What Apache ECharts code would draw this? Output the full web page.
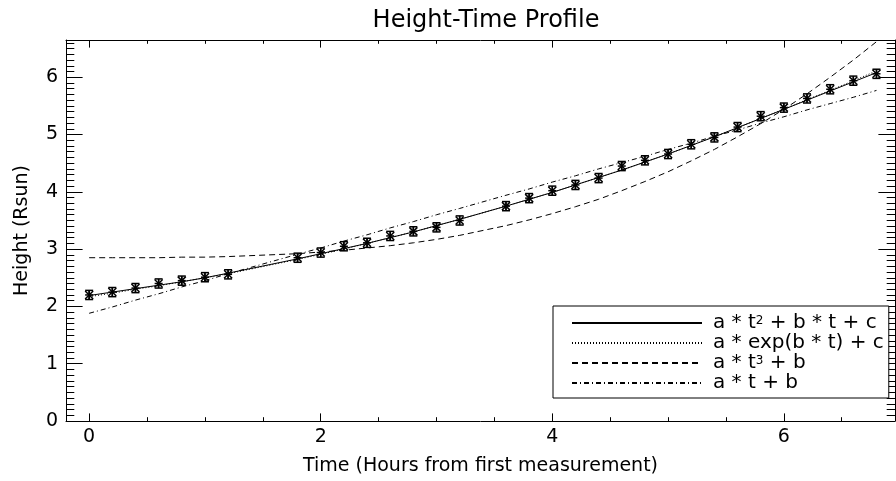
<!DOCTYPE html>
<html>
<head>
<meta charset="utf-8">
<script src="https://cdn.jsdelivr.net/npm/echarts@6/dist/echarts.min.js"></script>
<style>
html,body{margin:0;padding:0;background:#fff;}
#chart{width:896px;height:481px;}
</style>
</head>
<body>
<div id="chart"></div>
<script>
// ---- data ----
const hours = [0, 0.2, 0.4, 0.6, 0.8, 1.0, 1.2, 1.8, 2.0, 2.2, 2.4, 2.6, 2.8, 3.0, 3.2, 3.6, 3.8, 4.0, 4.2, 4.4, 4.6, 4.8, 5.0, 5.2, 5.4, 5.6, 5.8, 6.0, 6.2, 6.4, 6.6, 6.8];
const heightRsun = [2.20, 2.25, 2.32, 2.40, 2.45, 2.51, 2.56, 2.85, 2.94, 3.05, 3.11, 3.23, 3.31, 3.38, 3.50, 3.75, 3.89, 4.02, 4.12, 4.24, 4.45, 4.55, 4.66, 4.83, 4.95, 5.13, 5.32, 5.47, 5.63, 5.79, 5.94, 6.06];
const heightErr = [0.08, 0.08, 0.08, 0.08, 0.08, 0.08, 0.08, 0.08, 0.08, 0.08, 0.08, 0.08, 0.08, 0.08, 0.08, 0.08, 0.08, 0.08, 0.08, 0.08, 0.08, 0.08, 0.08, 0.08, 0.08, 0.08, 0.08, 0.08, 0.08, 0.08, 0.08, 0.08];
const fitQuad = [2.19, 2.25, 2.31, 2.37, 2.43, 2.50, 2.58, 2.83, 2.92, 3.01, 3.10, 3.20, 3.30, 3.41, 3.52, 3.75, 3.87, 3.99, 4.12, 4.25, 4.38, 4.52, 4.66, 4.81, 4.96, 5.12, 5.28, 5.44, 5.60, 5.76, 5.92, 6.08];
const fitExp = [2.17, 2.23, 2.30, 2.36, 2.43, 2.50, 2.57, 2.82, 2.91, 3.00, 3.10, 3.20, 3.30, 3.41, 3.52, 3.75, 3.87, 3.99, 4.12, 4.25, 4.38, 4.52, 4.66, 4.81, 4.96, 5.12, 5.28, 5.44, 5.61, 5.77, 5.94, 6.11];
const fitCubic = [2.85, 2.85, 2.85, 2.85, 2.86, 2.86, 2.87, 2.92, 2.95, 2.98, 3.02, 3.06, 3.11, 3.17, 3.24, 3.41, 3.51, 3.62, 3.74, 3.87, 4.02, 4.18, 4.35, 4.54, 4.74, 4.96, 5.19, 5.44, 5.71, 6.00, 6.30, 6.62];
const fitLinear = [1.88, 1.99, 2.11, 2.22, 2.34, 2.45, 2.57, 2.91, 3.02, 3.14, 3.25, 3.37, 3.48, 3.60, 3.71, 3.94, 4.05, 4.17, 4.28, 4.40, 4.51, 4.62, 4.74, 4.85, 4.97, 5.08, 5.20, 5.31, 5.43, 5.54, 5.65, 5.77];
const seriesNames = ['a * t² + b * t + c', 'a * exp(b * t) + c', 'a * t³ + b', 'a * t + b'];
const xTickLabels = [0, 2, 4, 6];
const yTickLabels = [0, 1, 2, 3, 4, 5, 6];
const xMinorTicks = [0.5, 1, 1.5, 2.5, 3, 3.5, 4.5, 5, 5.5, 6.5];
const yMinorTicks = [];
for (let i = 1; i <= 66; i++) { if (i % 10 !== 0) yMinorTicks.push(+(i / 10).toFixed(1)); }
const titleText = 'Height-Time Profile';
const xTitle = 'Time (Hours from first measurement)';
const yTitle = 'Height (Rsun)';

// ---- chart ----
const FONT = 'DejaVu Sans';
const X_MIN = -0.2, X_MAX = 6.96, Y_MIN = 0, Y_MAX = 6.65;
const gridRect = {left: 66, top: 40, width: 829, height: 381};
const lineCol = '#000';

function xAx(gridIndex, position, ticks, len, opts) {
  return Object.assign({
    type: 'value', gridIndex, position, min: X_MIN, max: X_MAX,
    axisLine: {show: true, onZero: false, lineStyle: {color: lineCol, width: 1}},
    axisTick: {show: true, inside: true, length: len, customValues: ticks, lineStyle: {color: lineCol, width: 1}},
    axisLabel: {show: false},
    splitLine: {show: false}
  }, opts || {});
}
function yAx(gridIndex, position, ticks, len, opts) {
  return Object.assign({
    type: 'value', gridIndex, position, min: Y_MIN, max: Y_MAX,
    axisLine: {show: true, onZero: false, lineStyle: {color: lineCol, width: 1}},
    axisTick: {show: true, inside: true, length: len, customValues: ticks, lineStyle: {color: lineCol, width: 1}},
    axisLabel: {show: false},
    splitLine: {show: false}
  }, opts || {});
}

const chart = echarts.init(document.getElementById('chart'), null, {renderer: 'canvas'});

const styles = [
  {type: 'solid'},
  {type: [1, 2]},
  {type: [6, 4]},
  {type: [5, 3, 1, 3]}
];
const fits = [fitQuad, fitExp, fitCubic, fitLinear];

const lineSeries = fits.map((arr, k) => ({
  name: seriesNames[k],
  type: 'line',
  xAxisIndex: 0, yAxisIndex: 0,
  data: hours.map((t, i) => [t, arr[i]]),
  symbol: 'none',
  showSymbol: false,
  smooth: false,
  lineStyle: Object.assign({color: '#000', width: 1}, styles[k]),
  itemStyle: {color: '#000'},
  z: 3,
  animation: false
}));

const pointSeries = {
  type: 'custom',
  name: 'data',
  xAxisIndex: 0, yAxisIndex: 0,
  data: hours.map((t, i) => [t, heightRsun[i], heightErr[i]]),
  encode: {x: 0, y: 1},
  z: 5,
  animation: false,
  renderItem: function (params, api) {
    const x = api.value(0), y = api.value(1), e = api.value(2);
    const p = api.coord([x, y]);
    const top = api.coord([x, y + e]);
    const bot = api.coord([x, y - e]);
    const cw = 4, r = 4;
    const st = {stroke: '#000', lineWidth: 1.5};
    const mk = (x1, y1, x2, y2) => ({type: 'line', shape: {x1, y1, x2, y2}, style: st});
    return {
      type: 'group',
      children: [
        mk(p[0], top[1], p[0], bot[1]),
        mk(p[0] - cw, top[1], p[0] + cw, top[1]),
        mk(p[0] - cw, bot[1], p[0] + cw, bot[1]),
        mk(p[0] - r, p[1], p[0] + r, p[1]),
        mk(p[0], p[1] - r, p[0], p[1] + r),
        mk(p[0] - r, p[1] - r, p[0] + r, p[1] + r),
        mk(p[0] - r, p[1] + r, p[0] + r, p[1] - r)
      ]
    };
  }
};

const option = {
  backgroundColor: '#fff',
  animation: false,
  textStyle: {fontFamily: FONT},
  title: {
    text: titleText,
    left: 481, top: 4, textAlign: 'center',
    textStyle: {fontFamily: FONT, fontSize: 24, fontWeight: 'normal', color: '#000'}
  },
  grid: [
    Object.assign({containLabel: false}, gridRect),
    Object.assign({containLabel: false}, gridRect)
  ],
  legend: {
    data: seriesNames,
    orient: 'vertical',
    left: 553, top: 306,
    padding: [7, 5, 5, 18],
    itemWidth: 130, itemHeight: 14, itemGap: 0,
    borderColor: '#000', borderWidth: 1, backgroundColor: '#fff',
    selectedMode: false,
    itemStyle: {opacity: 0},
    textStyle: {
      fontFamily: FONT, fontSize: 20, color: '#000', lineHeight: 16,
      padding: [0, 0, 0, 6],
      rich: {sup: {fontFamily: FONT, fontSize: 12, color: '#000', verticalAlign: 'top', lineHeight: 12}}
    },
    formatter: function (name) {
      return name.replace('²', '{sup|2}').replace('³', '{sup|3}');
    }
  },
  xAxis: [
    xAx(0, 'bottom', xTickLabels, 7.6, {
      axisLabel: {show: true, customValues: xTickLabels, margin: 7, fontFamily: FONT, fontSize: 19, color: '#000'},
      name: xTitle, nameLocation: 'middle', nameGap: 36,
      nameTextStyle: {fontFamily: FONT, fontSize: 19, color: '#000'}
    }),
    xAx(0, 'top', xTickLabels, 7.6),
    xAx(1, 'bottom', xMinorTicks, 3.8, {axisLine: {show: false, onZero: false}}),
    xAx(1, 'top', xMinorTicks, 3.8, {axisLine: {show: false, onZero: false}})
  ],
  yAxis: [
    yAx(0, 'left', yTickLabels, 16.6, {
      axisLabel: {show: true, customValues: yTickLabels, margin: 8, fontFamily: FONT, fontSize: 19, color: '#000'},
      name: yTitle, nameLocation: 'middle', nameGap: 34, nameRotate: 90,
      nameTextStyle: {fontFamily: FONT, fontSize: 19, color: '#000'}
    }),
    yAx(0, 'right', yTickLabels, 16.6),
    yAx(1, 'left', yMinorTicks, 8.3, {axisLine: {show: false, onZero: false}}),
    yAx(1, 'right', yMinorTicks, 8.3, {axisLine: {show: false, onZero: false}})
  ],
  series: lineSeries.concat([pointSeries])
};
chart.setOption(option);
</script>
</body>
</html>
